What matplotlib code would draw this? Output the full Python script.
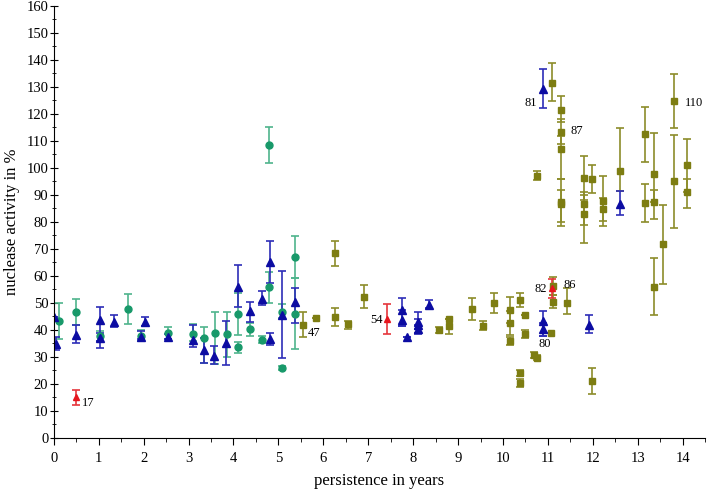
import numpy as np
import matplotlib
matplotlib.use('Agg')
import matplotlib.pyplot as plt
from matplotlib.ticker import MultipleLocator

plt.rcParams['font.family'] = ['Liberation Serif', 'DejaVu Serif']

# blue triangles: persistence, activity, lower bound, upper bound
blue_x = [0.0, 0.05, 0.5, 1.02, 1.02, 1.34, 2.03, 1.95, 2.55, 3.1, 3.35, 3.57, 3.83,
          4.1, 4.37, 4.63, 4.81, 4.81, 5.07, 5.37, 7.76, 7.76, 7.87, 8.11, 8.11, 8.11,
          8.36, 10.88, 10.88, 10.88, 11.92, 12.6]
blue_y = [44.8, 34.8, 38.1, 43.7, 37.0, 43.1, 43.1, 37.5, 37.5, 36.3, 32.6, 30.4, 35.0,
          56.0, 47.0, 51.4, 65.0, 36.6, 45.6, 50.5, 47.4, 43.7, 37.5, 43.0, 41.8, 40.5,
          49.3, 43.5, 40.2, 129.1, 41.9, 86.7]
blue_lo = [44.8, 32.6, 35.1, 33.2, 35.9, 41.2, 41.6, 36.5, 36.8, 33.6, 27.7, 27.4, 27.2,
           48.6, 43.1, 49.2, 57.3, 34.4, 29.5, 42.5, 41.5, 41.5, 37.5, 40.5, 39.0, 38.5,
           48.0, 37.6, 37.6, 122.3, 38.8, 82.6]
blue_hi = [44.8, 37.5, 41.9, 48.4, 39.0, 45.6, 44.9, 39.5, 38.5, 41.9, 36.9, 34.1, 43.5,
           63.9, 50.2, 54.3, 73.0, 38.8, 62.0, 55.5, 51.7, 47.4, 37.5, 46.5, 44.0, 42.0,
           51.1, 47.0, 42.5, 136.5, 45.6, 91.6]

# green circles
green_x = [0.12, 0.5, 1.02, 1.66, 1.95, 2.55, 3.1, 3.34, 3.59, 3.85, 4.09, 4.1, 4.37,
           4.63, 4.8, 4.8, 5.07, 5.07, 5.37, 5.37]
green_y = [43.3, 46.8, 37.8, 47.7, 37.8, 39.0, 38.6, 36.9, 39.0, 38.4, 45.9, 33.6, 40.2,
           36.3, 108.5, 55.8, 46.5, 25.8, 67.2, 45.9]
green_lo = [36.5, 41.9, 35.9, 42.1, 35.9, 36.7, 35.9, 27.7, 27.4, 30.1, 38.1, 31.4, 37.8,
            35.0, 102.0, 50.1, 44.3, 25.0, 59.1, 32.8]
green_hi = [50.1, 51.5, 39.8, 53.2, 40.0, 41.2, 42.1, 41.2, 46.5, 46.5, 53.8, 35.7, 42.7,
            37.6, 115.1, 61.5, 49.5, 26.8, 74.9, 59.1]

# red triangles
red_x = [0.5, 7.41, 11.09]
red_y = [15.1, 43.9, 55.4]
red_lo = [12.2, 38.5, 52.0]
red_hi = [17.8, 49.6, 59.0]

# olive squares
olive_x = [5.55, 5.83, 6.26, 6.26, 6.55, 6.91, 8.58, 8.80, 8.80, 9.30, 9.55, 9.80,
           10.16, 10.16, 10.16, 10.38, 10.38, 10.38, 10.5, 10.5, 10.69, 10.75, 10.75,
           11.07, 11.09, 11.12, 11.12, 11.28, 11.28, 11.28, 11.28, 11.28, 11.43,
           11.80, 11.80, 11.80, 11.97, 11.97, 12.23, 12.23, 12.6, 13.17, 13.17,
           13.35, 13.35, 13.35, 13.56, 13.8, 13.8, 14.1, 14.1]
olive_y = [41.8, 44.3, 68.4, 44.7, 42.2, 52.3, 40.0, 44.2, 41.4, 47.7, 41.6, 49.9,
           47.4, 42.4, 35.9, 51.1, 24.0, 20.3, 45.6, 38.5, 30.7, 29.7, 97.1,
           38.8, 131.6, 56.3, 50.5, 121.5, 113.5, 107.0, 87.5, 86.5, 50.1,
           96.2, 86.5, 83.0, 95.9, 21.1, 87.9, 84.7, 99.0, 112.4, 86.9,
           97.7, 87.3, 56.0, 71.7, 124.7, 95.0, 101.1, 91.1]
olive_lo = [37.3, 44.3, 63.7, 41.6, 40.3, 48.0, 39.0, 44.2, 38.6, 43.7, 40.0, 46.2,
            42.4, 38.0, 34.5, 48.5, 23.0, 19.0, 45.6, 37.0, 29.8, 28.8, 95.7,
            38.8, 124.8, 53.0, 48.0, 117.0, 109.0, 96.0, 80.0, 78.5, 45.9,
            88.0, 79.0, 72.2, 90.8, 16.3, 80.5, 78.5, 91.6, 102.3, 80.0,
            87.3, 81.0, 45.6, 57.0, 114.8, 77.7, 91.1, 85.3]
olive_hi = [46.5, 44.3, 73.1, 48.0, 43.4, 56.6, 41.0, 44.2, 44.2, 51.8, 43.5, 53.6,
            52.1, 47.0, 37.5, 53.8, 25.0, 21.8, 45.6, 40.0, 31.8, 30.6, 99.0,
            38.8, 138.8, 59.5, 53.0, 126.8, 118.0, 112.0, 96.0, 92.0, 55.6,
            104.5, 91.0, 90.0, 101.2, 26.0, 97.0, 89.0, 114.7, 122.5, 93.9,
            113.1, 92.0, 66.5, 86.3, 134.8, 112.2, 110.8, 96.0]

# sample numbers written next to some points
note_text = ['17', '47', '54', '81', '87', '110', '82', '86', '80']
note_x = [0.62, 5.66, 7.32, 10.76, 11.5, 14.06, 10.98, 11.35, 10.93]
note_y = [13.0, 38.8, 43.7, 124.0, 113.8, 124.0, 55.0, 56.7, 34.8]
note_ha = ['left', 'left', 'right', 'right', 'left', 'left', 'right', 'left', 'center']

fig = plt.figure(figsize=(7.08, 4.96), dpi=100)
ax = fig.add_axes([0.076, 0.117, 0.920, 0.871])


def draw(x, y, lo, hi, marker, mcolor, ecolor, ms):
    x = np.array(x)
    y = np.array(y)
    err = [y - np.array(lo), np.array(hi) - y]
    ax.errorbar(x, y, yerr=err, fmt=marker, color=mcolor, ecolor=ecolor, ms=ms,
                elinewidth=1.2, capsize=3, capthick=1.2, mec=mcolor)


draw(olive_x, olive_y, olive_lo, olive_hi, 's', '#7d7d12', '#8c8c2a', 4)
draw(green_x, green_y, green_lo, green_hi, 'o', '#18996a', '#4fb48c', 5)
draw(blue_x, blue_y, blue_lo, blue_hi, '^', '#0c0ca2', '#2d2db8', 5.5)
draw(red_x, red_y, red_lo, red_hi, '^', '#e5161e', '#e5363c', 5)

for t, x, y, ha in zip(note_text, note_x, note_y, note_ha):
    ax.text(x, y, t, ha=ha, va='center', fontsize=9)

ax.set_xlim(0, 14.5)
ax.set_ylim(0, 160)
ax.xaxis.set_major_locator(MultipleLocator(1))
ax.xaxis.set_minor_locator(MultipleLocator(0.5))
ax.yaxis.set_major_locator(MultipleLocator(10))
ax.yaxis.set_minor_locator(MultipleLocator(5))
ax.spines['top'].set_visible(False)
ax.spines['right'].set_visible(False)
ax.tick_params(axis='x', which='major', direction='out', length=5, labelsize=10.5, pad=5)
ax.tick_params(axis='x', which='minor', direction='out', length=3)
ax.tick_params(axis='y', which='major', direction='inout', length=6, labelsize=10.5, pad=1)
ax.tick_params(axis='y', which='minor', direction='inout', length=3)

ax.set_xlabel('persistence in years', fontsize=12, labelpad=6)
ax.set_ylabel('nuclease activity in %', fontsize=12)
ax.yaxis.set_label_coords(-0.052, 0.5)

fig.savefig('out.png', dpi=100)
